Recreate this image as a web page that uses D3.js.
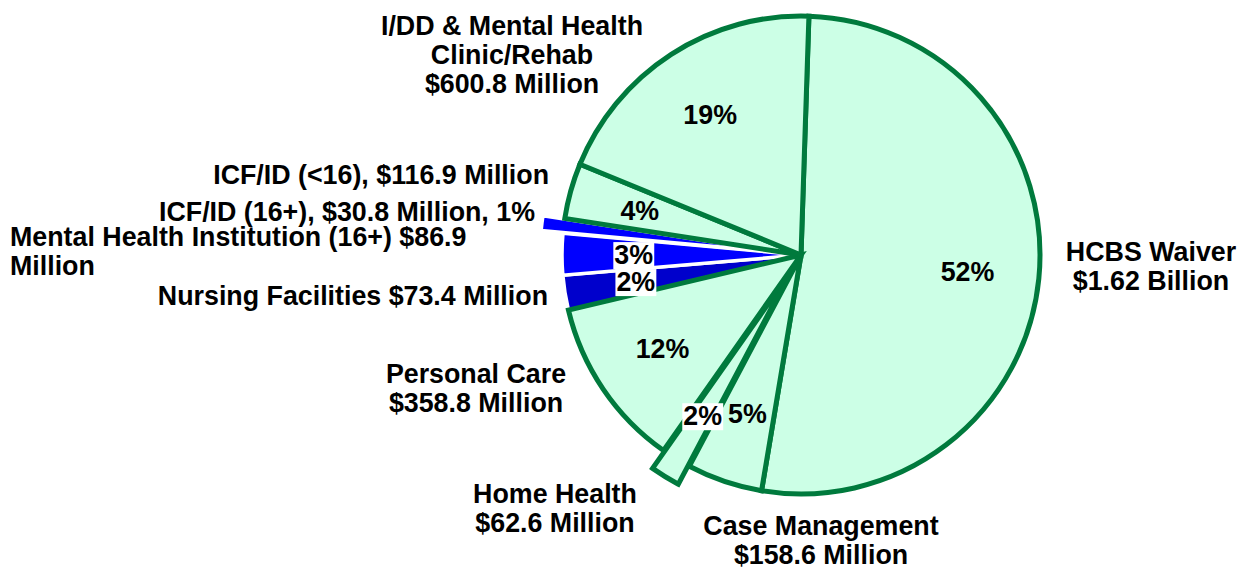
<!DOCTYPE html>
<html>
<head>
<meta charset="utf-8">
<script src="https://cdn.jsdelivr.net/npm/d3@7"></script>
<style>
  body { margin: 0; background: #fff; }
  text { font-family: "Liberation Sans", Arial, sans-serif; font-weight: bold; fill: #000; }
</style>
</head>
<body>
<div id="chart"></div>
<script>
// data, in millions of dollars, clockwise from the top
const categories = ['HCBS Waiver', 'Case Management', 'Home Health', 'Personal Care',
  'Nursing Facilities', 'Mental Health Institution (16+)', 'ICF/ID (16+)', 'ICF/ID (<16)',
  'I/DD & Mental Health Clinic/Rehab'];
const values = [1620, 158.6, 62.6, 358.8, 73.4, 86.9, 30.8, 116.9, 600.8];
const pctLabels = ['52%', '5%', '2%', '12%', '2%', '3%', '', '4%', '19%'];
const nameLabels = [
  ['HCBS Waiver', '$1.62 Billion'],
  ['Case Management', '$158.6 Million'],
  ['Home Health', '$62.6 Million'],
  ['Personal Care', '$358.8 Million'],
  ['Nursing Facilities $73.4 Million'],
  ['Mental Health Institution (16+) $86.9', 'Million'],
  ['ICF/ID (16+), $30.8 Million, 1%'],
  ['ICF/ID (<16), $116.9 Million'],
  ['I/DD & Mental Health', 'Clinic/Rehab', '$600.8 Million']
];

const width = 1242, height = 570;
const cx = 801, cy = 255, radius = 239;

// look per slice
const fills = ['#ccffe6', '#ccffe6', '#ccffe6', '#ccffe6', '#0000cc', '#0000ff', '#0000ff', '#ccffe6', '#ccffe6'];
const strokes = ['#007a3d', '#007a3d', '#007a3d', '#007a3d', '#fff', '#fff', '#fff', '#007a3d', '#007a3d'];
const explode = [0, 0, 21, 0, 0, 0, 22, 0, 0];
const whiteBox = [false, false, true, false, true, true, false, false, false];

// where each category label sits (x, first baseline, anchor)
const labelPos = [
  [1151, 261, 'middle'], [821, 535, 'middle'], [555, 503, 'middle'], [476, 383, 'middle'],
  [548, 305, 'end'], [10, 246, 'start'], [535, 221, 'end'], [549, 184, 'end'], [512, 35, 'middle']
];
const lineGap = 29;
const fontSize = '26.8px';

const svg = d3.select('#chart').append('svg')
  .attr('width', width)
  .attr('height', height);

const g = svg.append('g').attr('transform', `translate(${cx},${cy})`);

const pie = d3.pie().sort(null).value(d => d)
  .startAngle(1.9 * Math.PI / 180)
  .endAngle((360 + 1.9) * Math.PI / 180);
const arcs = pie(values).map((d, i) => Object.assign(d, { i }));

const arc = d3.arc().innerRadius(0).outerRadius(radius);
const labelArc = d3.arc().innerRadius(radius * 0.7).outerRadius(radius * 0.7);

function shift(d) {
  const a = (d.startAngle + d.endAngle) / 2;
  const e = explode[d.i];
  return [Math.sin(a) * e, -Math.cos(a) * e];
}

// blue slices first so the green borders sit over them
const order = arcs.filter(d => strokes[d.i] === '#fff').concat(arcs.filter(d => strokes[d.i] !== '#fff'));

g.selectAll('path.slice')
  .data(order)
  .enter()
  .append('path')
  .attr('class', 'slice')
  .attr('d', arc)
  .attr('transform', d => `translate(${shift(d)})`)
  .attr('fill', d => fills[d.i])
  .attr('stroke', d => strokes[d.i])
  .attr('stroke-width', d => strokes[d.i] === '#fff' ? 3.5 : 5)
  .attr('stroke-linejoin', 'miter');

// percent labels inside
const pct = g.selectAll('g.pct')
  .data(arcs.filter(d => pctLabels[d.i] !== ''))
  .enter()
  .append('g')
  .attr('class', 'pct')
  .attr('transform', d => {
    const c = labelArc.centroid(d), s = shift(d);
    return `translate(${c[0] + s[0]},${c[1] + s[1]})`;
  });

pct.append('text')
  .attr('text-anchor', 'middle')
  .attr('dy', '0.36em')
  .style('font-size', fontSize)
  .text(d => pctLabels[d.i]);

pct.each(function(d) {
  if (!whiteBox[d.i]) return;
  const t = d3.select(this).select('text');
  const b = t.node().getBBox();
  d3.select(this).insert('rect', 'text')
    .attr('x', b.x - 1)
    .attr('y', b.y + 2)
    .attr('width', b.width + 2)
    .attr('height', b.height - 3)
    .attr('fill', '#fff');
});

// category labels outside
arcs.forEach(d => {
  const p = labelPos[d.i];
  const t = svg.append('text')
    .attr('x', p[0])
    .attr('y', p[1])
    .attr('text-anchor', p[2])
    .style('font-size', fontSize);
  nameLabels[d.i].forEach((line, k) => {
    t.append('tspan')
      .attr('x', p[0])
      .attr('y', p[1] + k * lineGap)
      .text(line);
  });
});
</script>
</body>
</html>
